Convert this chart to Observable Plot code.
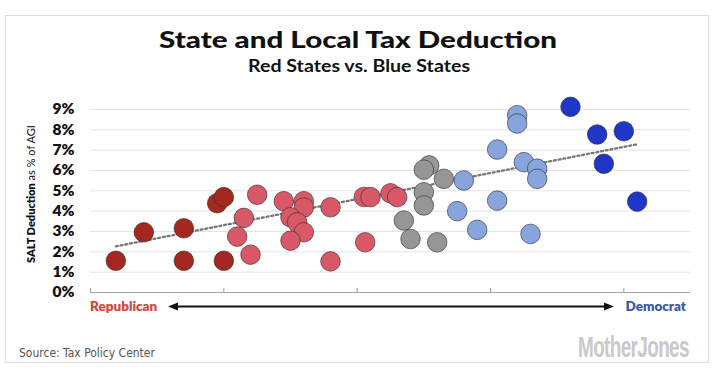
<!DOCTYPE html>
<html><head><meta charset="utf-8">
<script src="https://cdn.jsdelivr.net/npm/d3@7"></script>
<script src="https://cdn.jsdelivr.net/npm/@observablehq/plot@0.6"></script>
<style>
body{margin:0;background:#fff;}
#wrap{position:relative;width:713px;height:372px;overflow:hidden;font-family:Lato,sans-serif;}
#chart,#overlay{position:absolute;left:0;top:0;}
#overlay{pointer-events:none;}
</style></head><body>
<div id="wrap"><div id="chart"></div><svg id="overlay" width="713" height="372"></svg></div>
<script>
// ---- data (partisan lean on x, SALT deduction % of AGI on y) ----
const groupNames = ["Strong Republican", "Republican", "Swing", "Democrat", "Strong Democrat"];
const groupColors = ["#a4281f", "#d85868", "#969696", "#87a4dd", "#1e37c8"];

const strongRepLean = [0.19, 0.40, 0.70, 0.70, 1.00, 0.95, 1.00];
const strongRepSalt = [1.56, 2.96, 3.16, 1.56, 1.56, 4.39, 4.69];

const repLean = [1.25, 1.15, 1.10, 1.20, 1.45, 1.60, 1.60, 1.50, 1.55, 1.60, 1.50, 1.80, 1.80, 2.05, 2.10, 2.25, 2.30, 2.06];
const repSalt = [4.81, 3.67, 2.75, 1.86, 4.49, 4.49, 4.18, 3.70, 3.45, 2.96, 2.55, 4.19, 1.53, 4.70, 4.69, 4.88, 4.69, 2.47];

const swingLean = [2.54, 2.50, 2.65, 2.50, 2.50, 2.35, 2.40, 2.60];
const swingSalt = [6.25, 6.04, 5.59, 4.93, 4.28, 3.54, 2.63, 2.47];

const demLean = [2.80, 2.75, 2.90, 3.05, 3.05, 3.20, 3.20, 3.25, 3.35, 3.35, 3.30];
const demSalt = [5.51, 4.00, 3.08, 7.03, 4.52, 8.72, 8.31, 6.41, 6.09, 5.59, 2.88];

const strongDemLean = [3.60, 3.80, 4.00, 3.85, 4.10];
const strongDemSalt = [9.13, 7.77, 7.93, 6.33, 4.47];

const trendLean = [0.19, 4.10];
const trendSalt = [2.27, 7.29];

const yTicks = [0, 1, 2, 3, 4, 5, 6, 7, 8, 9];
const xTicks = [0, 1, 2, 3, 4];

// ---- build table ----
const groupsLean = [strongRepLean, repLean, swingLean, demLean, strongDemLean];
const groupsSalt = [strongRepSalt, repSalt, swingSalt, demSalt, strongDemSalt];
const points = [];
groupsLean.forEach((arr, g) => arr.forEach((x, i) => points.push({group: groupNames[g], lean: x, salt: groupsSalt[g][i]})));
const trend = trendLean.map((x, i) => ({lean: x, salt: trendSalt[i]}));

const chart = Plot.plot({
  width: 713, height: 372,
  marginLeft: 90, marginRight: 23, marginTop: 109, marginBottom: 80,
  x: {domain: [0, 4.5], axis: null},
  y: {domain: [0, 9], axis: null},
  color: {domain: groupNames, range: groupColors},
  style: {fontFamily: "Lato, sans-serif", background: "transparent", overflow: "visible"},
  marks: [
    Plot.gridY(yTicks.slice(1), {stroke: "#e3e3e3", strokeOpacity: 1, strokeWidth: 1}),
    Plot.ruleY([0], {stroke: "#a8a8a8", strokeWidth: 1}),
    Plot.tickX(xTicks, {x: d => d, stroke: "#9a9a9a", insetTop: 179}),
    Plot.axisY(yTicks, {tickSize: 0, tickPadding: 16, tickFormat: d => d + "%", fontSize: 15.5, fontWeight: 800, color: "#111", label: null}),
    Plot.line(trend, {x: "lean", y: "salt", stroke: "#777", strokeWidth: 2.3, strokeDasharray: "2,2.8"}),
    Plot.dot(points, {x: "lean", y: "salt", r: 9.8, fill: "group", fillOpacity: 1, stroke: "#2b2b2b", strokeWidth: 0.8, strokeOpacity: 0.75})
  ]
});
document.getElementById("chart").appendChild(chart);

// ---- overlay texts ----
const svg = d3.select("#overlay");
svg.append("rect").attr("x", 5.5).attr("y", 15.5).attr("width", 703).attr("height", 347)
  .attr("fill", "none").attr("stroke", "#dcdcdc");
svg.append("text").attr("x", 358).attr("y", 48).attr("text-anchor", "middle")
  .attr("font-family", "Lato, sans-serif").attr("font-weight", 900).attr("font-size", 23)
  .attr("textLength", 398).attr("lengthAdjust", "spacingAndGlyphs").attr("fill", "#111")
  .text("State and Local Tax Deduction");
svg.append("text").attr("x", 359).attr("y", 72).attr("text-anchor", "middle")
  .attr("font-family", "Lato, sans-serif").attr("font-weight", 700).attr("font-size", 16.5)
  .attr("textLength", 222).attr("lengthAdjust", "spacingAndGlyphs").attr("fill", "#111")
  .text("Red States vs. Blue States");
const yl = svg.append("text").attr("transform", "translate(35,194) rotate(-90)").attr("text-anchor", "middle")
  .attr("font-family", "Lato, sans-serif").attr("font-size", 11).attr("fill", "#111");
yl.append("tspan").attr("font-weight", 800).text("SALT Deduction");
yl.append("tspan").attr("font-weight", 400).text(" as % of AGI");
svg.append("text").attr("x", 90).attr("y", 311).attr("font-family", "Lato, sans-serif")
  .attr("font-weight", 800).attr("font-size", 13.5).attr("fill", "#d9443a").text("Republican");
svg.append("text").attr("x", 686).attr("y", 311).attr("text-anchor", "end").attr("font-family", "Lato, sans-serif")
  .attr("font-weight", 800).attr("font-size", 13.5).attr("fill", "#3c5aa6").text("Democrat");
svg.append("line").attr("x1", 176).attr("x2", 606).attr("y1", 306.5).attr("y2", 306.5)
  .attr("stroke", "#111").attr("stroke-width", 1.8);
svg.append("path").attr("d", "M168,306.5 L178,302.5 L178,310.5 Z").attr("fill", "#111");
svg.append("path").attr("d", "M614,306.5 L604,302.5 L604,310.5 Z").attr("fill", "#111");
svg.append("text").attr("x", 19).attr("y", 357).attr("font-family", "'DejaVu Sans Condensed', 'DejaVu Sans', sans-serif")
  .attr("font-size", 12).attr("fill", "#555").text("Source: Tax Policy Center");
const logo = svg.append("text").attr("font-family", "'Liberation Sans Narrow', 'Liberation Sans', sans-serif")
  .attr("font-weight", 700).attr("font-size", 30).attr("letter-spacing", -1)
  .attr("fill", "#c9c9c9").text("MotherJones");
const logoLen = logo.node().getComputedTextLength() || 150;
logo.attr("transform", `translate(578,357) scale(${111 / logoLen},1)`);
</script>
</body></html>
